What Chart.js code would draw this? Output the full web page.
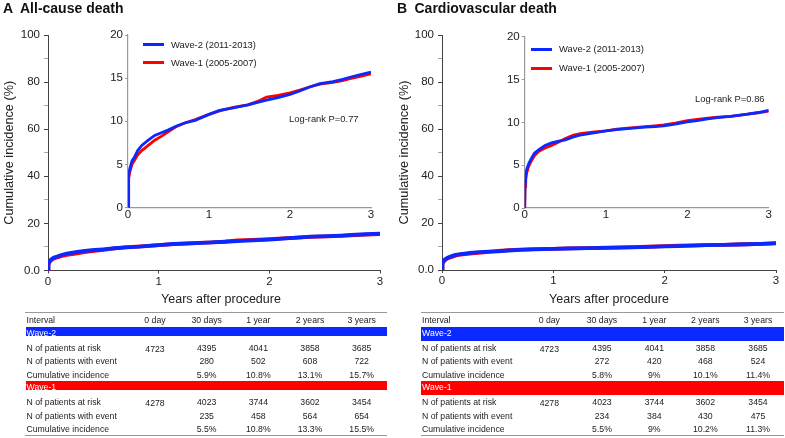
<!DOCTYPE html>
<html>
<head>
<meta charset="utf-8">
<script src="https://cdn.jsdelivr.net/npm/chart.js@4"></script>
<style>
  html, body { margin:0; padding:0; background:#fff; width:785px; height:438px; overflow:hidden; }
  #root { position:relative; width:785px; height:438px; font-family:"Liberation Sans", Arial, Helvetica, sans-serif; color:#222; }
  canvas { position:absolute; background:transparent; }
  .t { position:absolute; white-space:nowrap; }
</style>
</head>
<body>
<div id="root">
  <canvas id="mainA" width="392" height="300" style="left:0px;top:0px;width:392px;height:300px"></canvas>
  <canvas id="insetA" width="295" height="210" style="left:90px;top:20px;width:295px;height:210px"></canvas>
  <canvas id="mainB" width="393" height="300" style="left:392px;top:0px;width:393px;height:300px"></canvas>
  <canvas id="insetB" width="295" height="210" style="left:485px;top:20px;width:295px;height:210px"></canvas>
</div>
<script>
// ---------------- DATA ----------------
const seriesNames = ['Wave-2 (2011-2013)', 'Wave-1 (2005-2007)'];
const bandNames = ['Wave-2', 'Wave-1'];
const years = [0, 0.004, 0.012, 0.025, 0.05, 0.082, 0.12, 0.17, 0.25, 0.33, 0.42, 0.5, 0.6, 0.7, 0.83, 1.0, 1.13, 1.3, 1.48, 1.6, 1.71, 1.85, 2.0, 2.12, 2.25, 2.37, 2.53, 2.65, 2.74, 2.87, 3.0];
const allW2 = [0, 3.0, 3.9, 4.6, 5.4, 5.9, 6.6, 7.2, 7.8, 8.35, 8.7, 9.0, 9.45, 9.8, 10.1, 10.8, 11.25, 11.55, 11.9, 12.2, 12.45, 12.75, 13.1, 13.5, 14.0, 14.35, 14.6, 14.85, 15.1, 15.4, 15.7];
const allW1 = [0, 2.4, 3.4, 4.2, 5.0, 5.5, 6.1, 6.6, 7.2, 7.8, 8.3, 8.8, 9.4, 9.8, 10.2, 10.8, 11.2, 11.6, 11.9, 12.3, 12.8, 13.0, 13.3, 13.6, 14.0, 14.3, 14.5, 14.7, 14.95, 15.2, 15.5];
const cvW2 = [0, 3.0, 3.8, 4.5, 5.2, 5.8, 6.4, 6.8, 7.3, 7.6, 7.8, 7.95, 8.3, 8.55, 8.75, 9.0, 9.15, 9.3, 9.45, 9.5, 9.6, 9.8, 10.05, 10.2, 10.4, 10.55, 10.7, 10.85, 10.95, 11.15, 11.4];
const cvW1 = [0, 2.5, 3.3, 4.1, 4.9, 5.5, 6.1, 6.6, 7.0, 7.3, 7.7, 8.1, 8.5, 8.7, 8.85, 9.0, 9.2, 9.35, 9.5, 9.6, 9.7, 9.9, 10.2, 10.35, 10.5, 10.6, 10.7, 10.85, 10.95, 11.1, 11.3];

const intervals = ['0 day', '30 days', '1 year', '2 years', '3 years'];
const rowLabels = ['N of patients at risk', 'N of patients with event', 'Cumulative incidence'];
const riskW2 = [4723, 4395, 4041, 3858, 3685];
const riskW1 = [4278, 4023, 3744, 3602, 3454];
const allEventW2 = [null, 280, 502, 608, 722];
const allCumW2 = [null, 5.9, 10.8, 13.1, 15.7];
const allEventW1 = [null, 235, 458, 564, 654];
const allCumW1 = [null, 5.5, 10.8, 13.3, 15.5];
const cvEventW2 = [null, 272, 420, 468, 524];
const cvCumW2 = [null, 5.8, 9, 10.1, 11.4];
const cvEventW1 = [null, 234, 384, 430, 475];
const cvCumW1 = [null, 5.5, 9, 10.2, 11.3];

const panelTitles = [['A', 'All-cause death'], ['B', 'Cardiovascular death']];
const logRank = ['Log-rank P=0.77', 'Log-rank P=0.86'];
const yTitle = 'Cumulative incidence (%)';
const xTitle = 'Years after procedure';
const mainYTicks = [0, 20, 40, 60, 80, 100];

// ---------------- STYLE ----------------
const FONT = '"Liberation Sans", Arial, Helvetica, sans-serif';
const BLUE = '#0a28ff';
const RED = '#ff0000';
Chart.defaults.font.family = FONT;
Chart.defaults.color = '#222';

function pts(xs, ys) { return xs.map((x, i) => ({ x: x, y: ys[i] })); }

function datasets(w2, w1, width) {
  return [
    { label: seriesNames[0], data: pts(years, w2), borderColor: BLUE, backgroundColor: BLUE, borderWidth: width, pointRadius: 0, tension: 0, fill: false },
    { label: seriesNames[1], data: pts(years, w1), borderColor: RED, backgroundColor: RED, borderWidth: width, pointRadius: 0, tension: 0, fill: false }
  ];
}

function mainChart(id, w2, w1, g) {
  return new Chart(document.getElementById(id), {
    type: 'line',
    data: { datasets: datasets(w2, w1, 3.8) },
    options: {
      responsive: false, animation: false, events: [],
      layout: { padding: { left: 0, top: g.top, right: g.right, bottom: 0 } },
      plugins: { legend: { display: false }, tooltip: { enabled: false } },
      scales: {
        x: {
          type: 'linear', min: 0, max: 3,
          ticks: { stepSize: 1, font: { size: 11.5 }, color: '#222', padding: 1, maxRotation: 0 },
          grid: { drawOnChartArea: false, drawTicks: true, tickLength: 3, color: '#444' },
          border: { display: true, color: '#444', width: 1 },
          afterFit: s => { s.height = g.xh; }
        },
        y: {
          type: 'linear', min: 0, max: 100,
          ticks: { stepSize: 10, font: { size: 11.5 }, color: '#222', padding: 4,
            callback: v => mainYTicks.includes(v) ? (v === 0 ? '0.0' : String(v)) : '' },
          grid: { drawOnChartArea: false, drawTicks: true, tickLength: 4,
            color: c => (c.tick && mainYTicks.includes(c.tick.value)) ? '#444' : '#aaa' },
          border: { display: true, color: '#444', width: 1 },
          title: { display: true, text: yTitle, font: { size: 12.7 }, color: '#222', padding: { top: g.tpad, bottom: 0 } },
          afterFit: s => { s.width = g.yw; }
        }
      }
    }
  });
}

function insetChart(id, w2, w1, g) {
  return new Chart(document.getElementById(id), {
    type: 'line',
    data: { datasets: datasets(w2, w1, 2.8) },
    options: {
      responsive: false, animation: false, events: [],
      layout: { padding: { left: 0, top: g.top, right: g.right, bottom: 0 } },
      plugins: { legend: { display: false }, tooltip: { enabled: false } },
      scales: {
        x: {
          type: 'linear', min: 0, max: 3,
          ticks: { stepSize: 1, font: { size: 11.5 }, color: '#222', padding: 0, maxRotation: 0 },
          grid: { drawOnChartArea: false, drawTicks: false, color: '#999' },
          border: { display: true, color: '#999', width: 1.2 },
          afterFit: s => { s.height = g.xh; }
        },
        y: {
          type: 'linear', min: 0, max: 20,
          ticks: { stepSize: 5, font: { size: 11.5 }, color: '#222', padding: 2 },
          grid: { drawOnChartArea: false, drawTicks: true, tickLength: 3, color: '#999' },
          border: { display: true, color: '#999', width: 1.2 },
          afterFit: s => { s.width = g.yw; }
        }
      }
    }
  });
}

mainChart('mainA', allW2, allW1, { top: 35, right: 12, xh: 29.5, yw: 48, tpad: 1.5 });
insetChart('insetA', allW2, allW1, { top: 15, right: 14, xh: 22.5, yw: 38 });
mainChart('mainB', cvW2, cvW1, { top: 35, right: 9, xh: 30, yw: 50, tpad: 4.5 });
insetChart('insetB', cvW2, cvW1, { top: 16.7, right: 11.3, xh: 22, yw: 39.7 });

// ---------------- HTML TEXT ----------------
const root = document.getElementById('root');
function txt(s, x, y, o) {
  o = o || {};
  const d = document.createElement('div');
  d.className = 't';
  const fs = o.size || 9;
  const lh = Math.round(fs * 1.3);
  d.textContent = s;
  d.style.fontSize = fs + 'px';
  d.style.lineHeight = lh + 'px';
  d.style.top = (y - lh / 2) + 'px';
  d.style.left = x + 'px';
  if (o.bold) d.style.fontWeight = 'bold';
  if (o.color) d.style.color = o.color;
  if (o.align === 'center') d.style.transform = 'translateX(-50%)';
  if (o.align === 'right') d.style.transform = 'translateX(-100%)';
  root.appendChild(d);
  return d;
}
function rect(x, y, w, h, color) {
  const d = document.createElement('div');
  d.style.position = 'absolute';
  d.style.left = x + 'px'; d.style.top = y + 'px';
  d.style.width = w + 'px'; d.style.height = h + 'px';
  d.style.background = color;
  root.appendChild(d);
}

// panel titles
txt(panelTitles[0][0], 3, 7.5, { size: 14, bold: true, color: '#111' });
txt(panelTitles[0][1], 20, 7.5, { size: 14, bold: true, color: '#111' });
txt(panelTitles[1][0], 397, 7.5, { size: 14, bold: true, color: '#111' });
txt(panelTitles[1][1], 414.5, 7.5, { size: 14, bold: true, color: '#111' });

// x titles
txt(xTitle, 221, 298.5, { size: 12.5, align: 'center' });
txt(xTitle, 609, 298.5, { size: 12.5, align: 'center' });

// legends
function legend(x, yB, yR, tx) {
  rect(x, yB - 1.5, 21, 3, BLUE);
  rect(x, yR - 1.5, 21, 3, RED);
  txt(seriesNames[0], tx, yB, { size: 9.4 });
  txt(seriesNames[1], tx, yR, { size: 9.4 });
}
legend(143, 44.5, 62.5, 171);
legend(531, 49, 68, 559);
txt(logRank[0], 289, 119, { size: 9.4 });
txt(logRank[1], 695, 98.5, { size: 9.4 });

// tables
const TF = 8.7;
function fmtCum(v) { return v == null ? '' : String(v) + '%'; }
function table(x0, x1, cols, ev2, cum2, ev1, cum1, bandH) {
  rect(x0, 312, x1 - x0, 1, '#999');
  rect(x0, 435, x1 - x0, 1, '#999');
  txt('Interval', x0 + 1.5, 320.5, { size: TF });
  intervals.forEach((s, i) => txt(s, cols[i], 320.5, { size: TF, align: 'center' }));
  const groups = [
    { band: 327, color: BLUE, name: bandNames[0], rows: [348, 361.7, 375.5], vals: [riskW2, ev2, cum2] },
    { band: 381, color: RED, name: bandNames[1], rows: [402, 416, 429.5], vals: [riskW1, ev1, cum1] }
  ];
  groups.forEach(gr => {
    rect(x0 + 0.5, gr.band, x1 - x0 - 1, bandH, gr.color);
    txt(gr.name, x0 + 1.5, gr.band + 6.3, { size: TF, color: '#fff' });
    rowLabels.forEach((lab, r) => {
      txt(lab, x0 + 1.5, gr.rows[r], { size: TF });
      gr.vals[r].forEach((v, i) => {
        if (v == null) return;
        const s = r === 2 ? fmtCum(v) : String(v);
        txt(s, cols[i], gr.rows[r] + (i === 0 ? 1.5 : 0), { size: TF, align: 'center' });
      });
    });
  });
}
table(25, 387, [155, 206.7, 258.3, 310, 361.7], allEventW2, allCumW2, allEventW1, allCumW1, 9);
table(420.5, 784, [549.3, 602, 654.3, 705.3, 758], cvEventW2, cvCumW2, cvEventW1, cvCumW1, 13.5);
</script>
</body>
</html>
